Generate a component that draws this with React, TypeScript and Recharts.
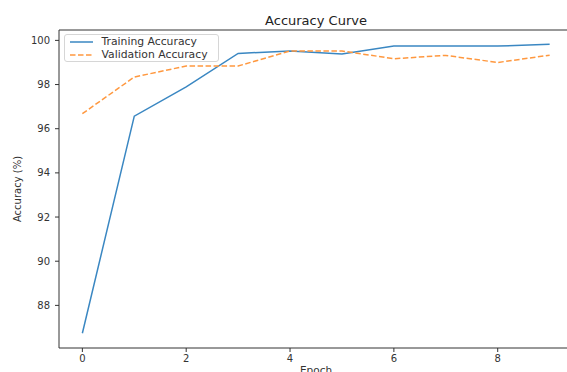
import { Label, Legend, Line, LineChart, ReferenceLine, XAxis, YAxis } from "recharts";

const epochs = [0, 1, 2, 3, 4, 5, 6, 7, 8, 9];
const trainingAcc = [86.74, 96.57, 97.89, 99.41, 99.52, 99.38, 99.74, 99.74, 99.74, 99.83];
const validationAcc = [96.68, 98.34, 98.84, 98.84, 99.52, 99.52, 99.17, 99.32, 99.0, 99.33];
const xTicks = [0, 2, 4, 6, 8];
const yTicks = [88, 90, 92, 94, 96, 98, 100];

const data = epochs.map((epoch, i) => ({
  epoch,
  train: trainingAcc[i],
  val: validationAcc[i],
}));

const FONT = "'DejaVu Sans', sans-serif";
const BLUE = "#3a87c2";
const ORANGE = "#ff983f";
const Y_MIN = 86.07;
const Y_MAX = 100.47;

const legendItems = [
  { label: "Training Accuracy", color: BLUE, dash: undefined },
  { label: "Validation Accuracy", color: ORANGE, dash: "5.5 2.5" },
];

function LegendBox() {
  return (
    <div
      style={{
        width: 155,
        height: 28,
        boxSizing: "border-box",
        border: "1px solid #d6d6d6",
        borderRadius: 3,
        background: "rgba(255,255,255,0.8)",
        padding: "0 0 0 5px",
        fontFamily: FONT,
        fontSize: 10.8,
        color: "#333",
      }}
    >
      {legendItems.map((item) => (
        <div key={item.label} style={{ display: "flex", alignItems: "center", height: 13 }}>
          <svg width={23} height={4} style={{ marginRight: 8.5 }}>
            <line x1={0} y1={2} x2={23} y2={2} stroke={item.color} strokeWidth={1.5} strokeDasharray={item.dash} />
          </svg>
          <span style={{ whiteSpace: "nowrap" }}>{item.label}</span>
        </div>
      ))}
    </div>
  );
}

export default function App() {
  return (
    <div style={{ position: "absolute", top: 0, left: 0, width: 567, height: 372, overflow: "hidden", background: "#fff" }}>
      <div
        style={{
          position: "absolute",
          top: 14,
          left: 59,
          width: 514,
          textAlign: "center",
          fontFamily: FONT,
          fontSize: 13,
          color: "#222",
          lineHeight: "14px",
        }}
      >
        Accuracy Curve
      </div>
      <LineChart width={580} height={372} data={data} margin={{ top: 30, right: 7, left: 0, bottom: 0 }}>
        <XAxis
          dataKey="epoch"
          type="number"
          domain={[-0.45, 9.45]}
          ticks={xTicks}
          height={24}
          tickSize={4}
          tickMargin={3}
          stroke="#333"
          tick={{ fontSize: 10, fill: "#333", fontFamily: FONT }}
        >
          <Label value="Epoch" position="insideBottom" offset={-1.5} style={{ fontSize: 10.5, fill: "#333", fontFamily: FONT }} />
        </XAxis>
        <YAxis
          type="number"
          domain={[Y_MIN, Y_MAX]}
          ticks={yTicks}
          width={59}
          tickSize={4}
          tickMargin={5}
          stroke="#333"
          allowDataOverflow
          tick={{ fontSize: 10, fill: "#333", fontFamily: FONT }}
        >
          <Label
            value="Accuracy (%)"
            angle={-90}
            position="insideLeft"
            offset={17}
            style={{ fontSize: 10, fill: "#333", fontFamily: FONT, textAnchor: "middle" }}
          />
        </YAxis>
        <ReferenceLine y={Y_MAX} stroke="#333" ifOverflow="extendDomain" />
        <Legend
          layout="horizontal"
          verticalAlign="middle"
          align="center"
          content={() => <LegendBox />}
          wrapperStyle={{ top: 34, left: 64, width: 155 }}
        />
        <Line type="linear" dataKey="train" stroke={BLUE} strokeWidth={1.5} dot={false} isAnimationActive={false} />
        <Line
          type="linear"
          dataKey="val"
          stroke={ORANGE}
          strokeWidth={1.5}
          strokeDasharray="5.5 2.5"
          dot={false}
          isAnimationActive={false}
        />
      </LineChart>
    </div>
  );
}
